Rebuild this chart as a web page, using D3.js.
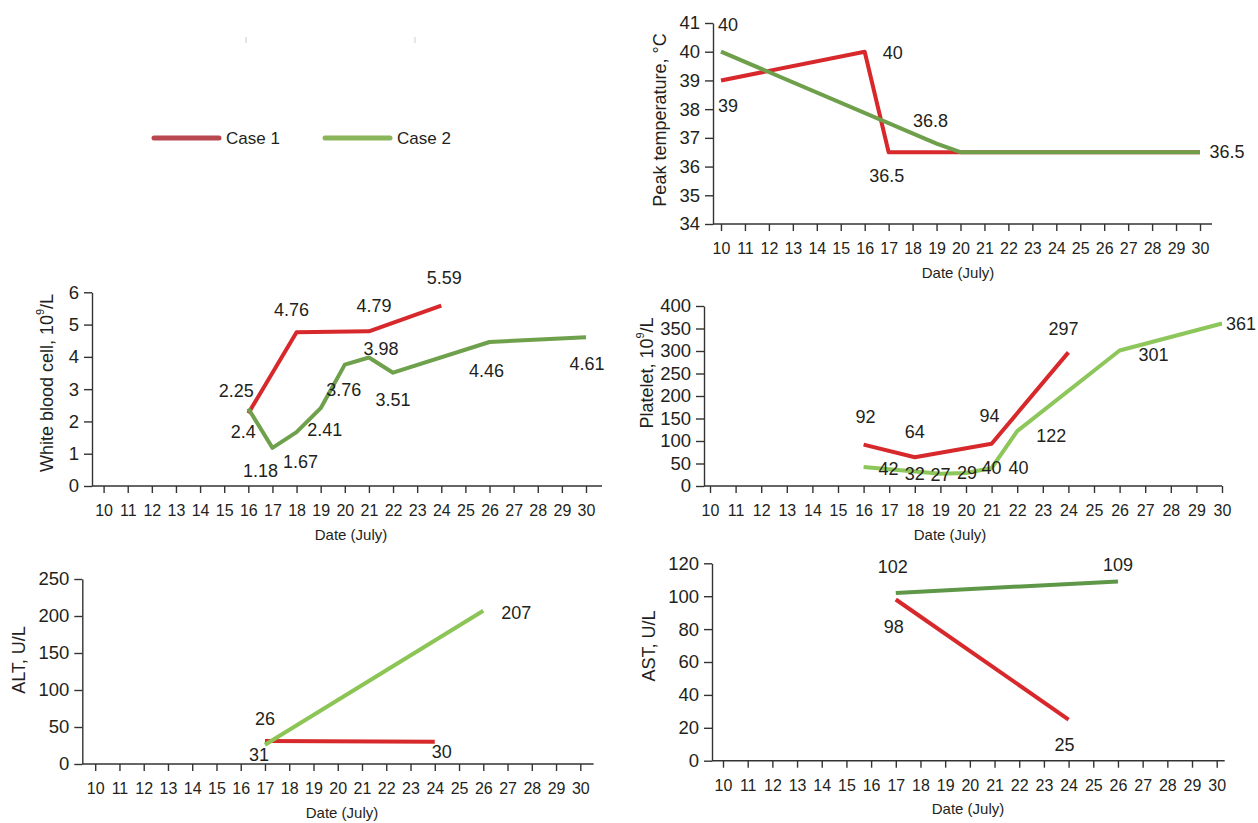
<!DOCTYPE html>
<meta charset="utf-8">
<style>
body { margin: 0; background: #fff; }
svg { display: block; font-family: "Liberation Sans", Arial, Helvetica, sans-serif; }
.tick text { fill: #231f20; }
.axis path, .axis line { stroke: #333; stroke-width: 1.4px; }
.lbl { fill: #231f20; font-size: 18px; }
</style>
<script src="https://d3js.org/d3.v7.min.js"></script>
<body>
<script>
// ---- data ----
var days = [10, 11, 12, 13, 14, 15, 16, 17, 18, 19, 20, 21, 22, 23, 24, 25, 26, 27, 28, 29, 30];

var tempTicks = [34, 35, 36, 37, 38, 39, 40, 41];
var tempDays1 = [10, 16, 17, 30], tempCase1 = [39, 40, 36.5, 36.5];
var tempDays2 = [10, 19, 20, 30], tempCase2 = [40, 36.8, 36.5, 36.5];

var wbcTicks = [0, 1, 2, 3, 4, 5, 6];
var wbcDays1 = [16, 18, 21, 24], wbcCase1 = [2.25, 4.76, 4.79, 5.59];
var wbcDays2 = [16, 17, 18, 19, 20, 21, 22, 26, 30];
var wbcCase2 = [2.4, 1.18, 1.67, 2.41, 3.76, 3.98, 3.51, 4.46, 4.61];

var pltTicks = [0, 50, 100, 150, 200, 250, 300, 350, 400];
var pltDays1 = [16, 18, 21, 24], pltCase1 = [92, 64, 94, 297];
var pltDays2 = [16, 18, 19, 20, 21, 22, 26, 30];
var pltCase2 = [42, 32, 27, 29, 40, 122, 301, 361];

var altTicks = [0, 50, 100, 150, 200, 250];
var altDays1 = [17, 24], altCase1 = [31, 30];
var altDays2 = [17, 26], altCase2 = [26, 207];

var astTicks = [0, 20, 40, 60, 80, 100, 120];
var astDays1 = [17, 24], astCase1 = [98, 25];
var astDays2 = [17, 26], astCase2 = [102, 109];

var legendNames = ["Case 1", "Case 2"];

// ---- layout ----
var red = "#d7282b";

var svg = d3.select("body").append("svg")
    .attr("width", 1258)
    .attr("height", 823);

// label placement: [series (1|2), point index, dx, dy]
var panels = [
  { title: ["Peak temperature, °C"], ticks: tempTicks,
    s1: [tempDays1, tempCase1], s2: [tempDays2, tempCase2], green: "#6e9f4b",
    yAxisX: 713, x0: 721, x1: 1200, xEnd: 1212, yTop: 23, yBot: 224,
    tickY: 248, titleX: 958, titleY: 272, yTitleX: 660, yTitleY: 120,
    labels: [[2,0,7,-27],[1,1,28,1],[1,0,7,26],[2,1,-6,-23],[1,2,-2,24],[2,3,27,0]] },
  { title: ["White blood cell, 10", "9", "/L"], ticks: wbcTicks,
    s1: [wbcDays1, wbcCase1], s2: [wbcDays2, wbcCase2], green: "#6fa04c",
    yAxisX: 92, x0: 103.6, x1: 586, xEnd: 602, yTop: 292.3, yBot: 486,
    tickY: 510, titleX: 351, titleY: 534, yTitleX: 47, yTitleY: 383,
    labels: [[1,0,-12,-22],[1,1,-5,-22],[1,2,5,-25],[1,3,3,-28],
             [2,0,-5,23],[2,1,-12,23],[2,2,4,30],[2,3,4,22],[2,4,-1,25],
             [2,5,12,-9],[2,6,0,27],[2,7,-3,29],[2,8,1,27]] },
  { title: ["Platelet, 10", "9", "/L"], ticks: pltTicks,
    s1: [pltDays1, pltCase1], s2: [pltDays2, pltCase2], green: "#8dc65a",
    yAxisX: 704, x0: 710, x1: 1222, xEnd: 1222, yTop: 306, yBot: 486,
    tickY: 510, titleX: 950, titleY: 534, yTitleX: 647, yTitleY: 373,
    labels: [[1,0,2,-28],[1,1,0,-25],[1,2,-2,-28],[1,3,-5,-23],
             [2,0,25,2],[2,1,0,2],[2,2,0,1],[2,3,1,0],[2,4,0,0],[2,4,27,0],
             [2,5,34,5],[2,6,34,4],[2,7,19,0]] },
  { title: ["ALT, U/L"], ticks: altTicks,
    s1: [altDays1, altCase1], s2: [altDays2, altCase2], green: "#8cc556",
    yAxisX: 82.3, x0: 95.2, x1: 580.3, xEnd: 593.6, yTop: 579, yBot: 764,
    tickY: 788, titleX: 342, titleY: 812, yTitleX: 19, yTitleY: 660,
    labels: [[2,0,0,-26],[1,0,-6,14],[1,1,7,10],[2,1,33,2]] },
  { title: ["AST, U/L"], ticks: astTicks,
    s1: [astDays1, astCase1], s2: [astDays2, astCase2], green: "#5f9748",
    yAxisX: 712, x0: 723, x1: 1216.7, xEnd: 1224.7, yTop: 563.3, yBot: 760.7,
    tickY: 786, titleX: 968, titleY: 808, yTitleX: 649, yTitleY: 646,
    labels: [[2,0,-3,-26],[2,1,0,-16],[1,0,-2,28],[1,1,-4,25]] }
];

panels.forEach(function(p) {
  var g = svg.append("g");
  var x = d3.scalePoint().domain(days).range([p.x0, p.x1]);
  var y = d3.scaleLinear().domain(d3.extent(p.ticks)).range([p.yBot, p.yTop]);

  // y axis
  var ya = g.append("g").attr("class", "axis")
      .attr("transform", "translate(" + p.yAxisX + ",0)")
      .call(d3.axisLeft(y).tickValues(p.ticks).tickFormat(d3.format("d"))
        .tickSize(8).tickSizeOuter(0).tickPadding(5));
  ya.selectAll("text").style("font-size", "18.5px");

  // x axis
  var xa = g.append("g").attr("class", "axis")
      .attr("transform", "translate(0," + p.yBot + ")")
      .call(d3.axisBottom(x).tickSize(7).tickSizeOuter(0));
  xa.select(".domain").remove();
  xa.selectAll("text").style("font-size", "16px").attr("dy", null)
      .attr("y", p.tickY - p.yBot).attr("dominant-baseline", "central");
  g.append("line")
      .attr("x1", p.yAxisX).attr("x2", p.xEnd)
      .attr("y1", p.yBot).attr("y2", p.yBot)
      .attr("stroke", "#333").attr("stroke-width", 1.4);

  g.append("text").attr("x", p.titleX).attr("y", p.titleY)
      .attr("text-anchor", "middle").attr("dominant-baseline", "central")
      .attr("fill", "#231f20").style("font-size", "15px").text("Date (July)");

  var yt = g.append("text")
      .attr("transform", "translate(" + p.yTitleX + "," + p.yTitleY + ") rotate(-90)")
      .attr("text-anchor", "middle").attr("dominant-baseline", "central")
      .attr("fill", "#231f20").style("font-size", "18px");
  yt.append("tspan").text(p.title[0]);
  if (p.title.length > 1) {
    yt.append("tspan").attr("dy", -7).style("font-size", "11px").text(p.title[1]);
    yt.append("tspan").attr("dy", 7).text(p.title[2]);
  }

  var line = d3.line().x(function(d) { return x(d[0]); }).y(function(d) { return y(d[1]); });
  var pts1 = d3.zip(p.s1[0], p.s1[1]);
  var pts2 = d3.zip(p.s2[0], p.s2[1]);
  g.append("path").datum(pts1).attr("d", line)
      .attr("fill", "none").attr("stroke", red).attr("stroke-width", 4)
      .attr("stroke-linejoin", "round");
  g.append("path").datum(pts2).attr("d", line)
      .attr("fill", "none").attr("stroke", p.green).attr("stroke-width", 4)
      .attr("stroke-linejoin", "round");

  g.selectAll(".lbl").data(p.labels).enter().append("text")
      .attr("class", "lbl")
      .attr("text-anchor", "middle").attr("dominant-baseline", "central")
      .attr("x", function(l) { var d = (l[0] === 1 ? pts1 : pts2)[l[1]]; return x(d[0]) + l[2]; })
      .attr("y", function(l) { var d = (l[0] === 1 ? pts1 : pts2)[l[1]]; return y(d[1]) + l[3]; })
      .text(function(l) { return (l[0] === 1 ? pts1 : pts2)[l[1]][1]; });
});

// legend
var legColors = ["#b9474f", "#8bb55a"];
var legX = [154, 325];
var lg = svg.append("g");
legendNames.forEach(function(n, i) {
  lg.append("line").attr("x1", legX[i]).attr("x2", legX[i] + 65)
      .attr("y1", 138).attr("y2", 138)
      .attr("stroke", legColors[i]).attr("stroke-width", 5).attr("stroke-linecap", "round");
  lg.append("text").attr("x", legX[i] + 72).attr("y", 138)
      .attr("dominant-baseline", "central").attr("fill", "#231f20")
      .style("font-size", "17px").text(n);
});
// faint marks above the legend
[246, 415].forEach(function(mx) {
  lg.append("line").attr("x1", mx).attr("x2", mx).attr("y1", 37).attr("y2", 43)
      .attr("stroke", "#ccc").attr("stroke-width", 1);
});
</script>
</body>
